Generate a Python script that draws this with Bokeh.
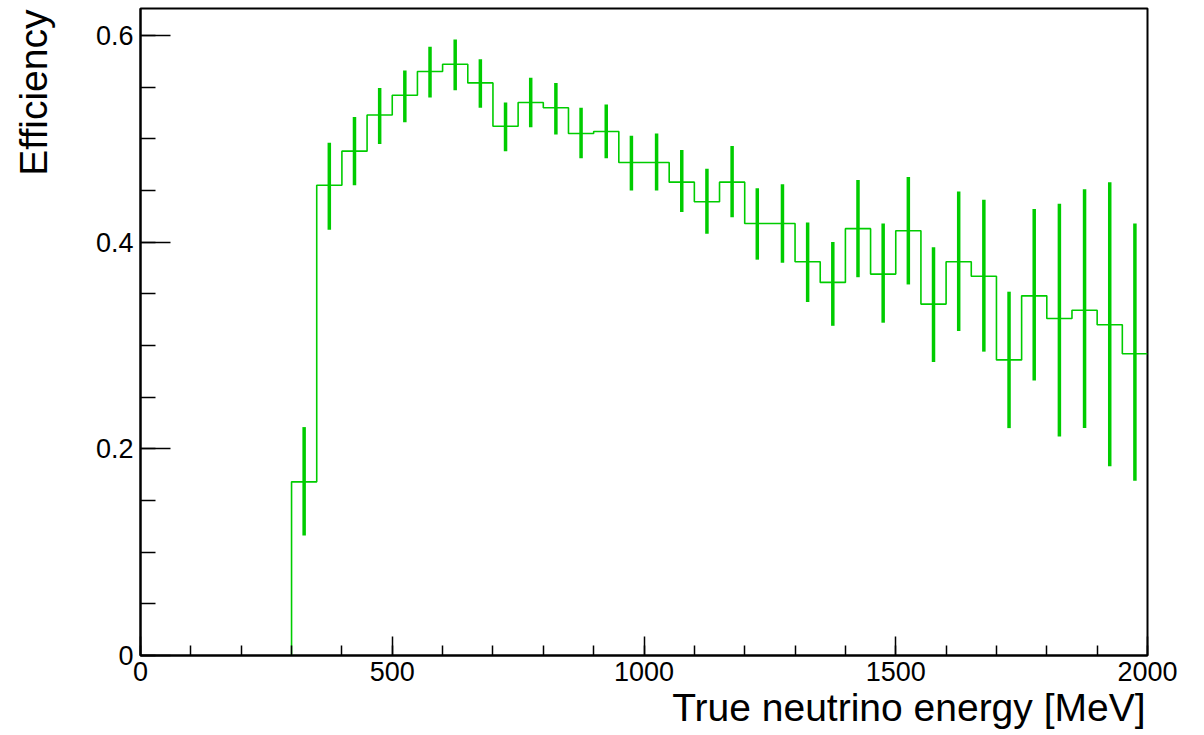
from bokeh.plotting import figure
from bokeh.models import Range1d, FixedTicker, Title
from bokeh.embed import file_html
from bokeh.resources import INLINE

# ---- data ----
bin_edges = [300 + 50 * i for i in range(35)]  # 300 ... 2000 MeV, 50 MeV bins
efficiency = [0.168, 0.455, 0.488, 0.523, 0.542, 0.565, 0.572, 0.554, 0.512, 0.535,
              0.530, 0.505, 0.507, 0.477, 0.477, 0.458, 0.439, 0.458, 0.418, 0.418,
              0.381, 0.361, 0.413, 0.369, 0.411, 0.340, 0.381, 0.367, 0.286, 0.348,
              0.326, 0.334, 0.320, 0.292]
err_low_end = [0.116, 0.412, 0.455, 0.495, 0.516, 0.540, 0.547, 0.530, 0.488, 0.511,
               0.504, 0.481, 0.481, 0.450, 0.450, 0.429, 0.408, 0.424, 0.383, 0.380,
               0.342, 0.319, 0.366, 0.322, 0.359, 0.284, 0.314, 0.294, 0.220, 0.266,
               0.212, 0.220, 0.183, 0.169]
err_high_end = [0.221, 0.496, 0.521, 0.549, 0.566, 0.589, 0.596, 0.577, 0.535, 0.559,
                0.554, 0.530, 0.533, 0.503, 0.505, 0.489, 0.471, 0.493, 0.452, 0.456,
                0.419, 0.400, 0.460, 0.418, 0.463, 0.395, 0.449, 0.441, 0.352, 0.432,
                0.437, 0.451, 0.458, 0.418]
x_major_ticks = [0, 500, 1000, 1500, 2000]
x_minor_ticks = [100 * i for i in range(21)]
y_major_ticks = [0, 0.2, 0.4, 0.6]
y_major_labels = ["0", "0.2", "0.4", "0.6"]
y_minor_ticks = [round(0.05 * i, 2) for i in range(13)]
x_title = "True neutrino energy [MeV]"
y_title = "Efficiency"

X_MIN, X_MAX = 0, 2000
Y_MIN, Y_MAX = 0, 0.626

GREEN = "#00cc00"
FONT = "Liberation Sans"

p = figure(frame_width=1007, frame_height=647, output_backend="svg",
           toolbar_location=None, x_range=Range1d(X_MIN, X_MAX), y_range=Range1d(Y_MIN, Y_MAX),
           min_border_left=140, min_border_top=8, min_border_right=50, min_border_bottom=80)
p.background_fill_color = "white"
p.border_fill_color = "white"
p.outline_line_color = "black"
p.outline_line_width = 2
p.xgrid.visible = False
p.ygrid.visible = False

# histogram step outline
sx = [bin_edges[0]]
sy = [0]
for i, v in enumerate(efficiency):
    sx += [bin_edges[i], bin_edges[i + 1]]
    sy += [v, v]
p.line(sx, sy, line_color=GREEN, line_width=1.6)

centers = [(bin_edges[i] + bin_edges[i + 1]) / 2 for i in range(len(efficiency))]
p.segment(x0=centers, y0=err_low_end, x1=centers, y1=err_high_end,
          line_color=GREEN, line_width=3.5)

# axes styling
for ax in (p.xaxis[0], p.yaxis[0]):
    ax.axis_line_color = "black"
    ax.axis_line_width = 2
    ax.major_tick_line_color = "black"
    ax.minor_tick_line_color = "black"
    ax.major_tick_line_width = 1.5
    ax.minor_tick_line_width = 1.5
    ax.major_tick_out = 0
    ax.minor_tick_out = 0
    ax.major_label_text_font = FONT
    ax.major_label_text_font_size = "27px"
    ax.major_label_text_color = "black"

xa = p.xaxis[0]
xa.ticker = FixedTicker(ticks=x_major_ticks, minor_ticks=x_minor_ticks)
xa.major_tick_in = 19
xa.minor_tick_in = 10
xa.major_label_standoff = 6

ya = p.yaxis[0]
ya.ticker = FixedTicker(ticks=y_major_ticks, minor_ticks=y_minor_ticks)
ya.major_label_overrides = {t: s for t, s in zip(y_major_ticks, y_major_labels)}
ya.major_tick_in = 30
ya.minor_tick_in = 15
ya.major_label_standoff = 7
# invisible spacer label so the title sits further left, as in ROOT
ya.axis_label = " "
ya.axis_label_standoff = 34
ya.axis_label_text_font_size = "1px"

# axis titles, right/top aligned like ROOT
p.add_layout(Title(text=x_title, align="right", vertical_align="bottom", standoff=0, offset=2,
                   text_font=FONT, text_font_size="39px", text_font_style="normal",
                   text_color="black"), "below")
p.add_layout(Title(text=y_title, align="right", vertical_align="bottom", standoff=0, offset=1,
                   text_font=FONT, text_font_size="39px", text_font_style="normal",
                   text_color="black"), "left")

open("out.html", "w").write(file_html(p, INLINE))
